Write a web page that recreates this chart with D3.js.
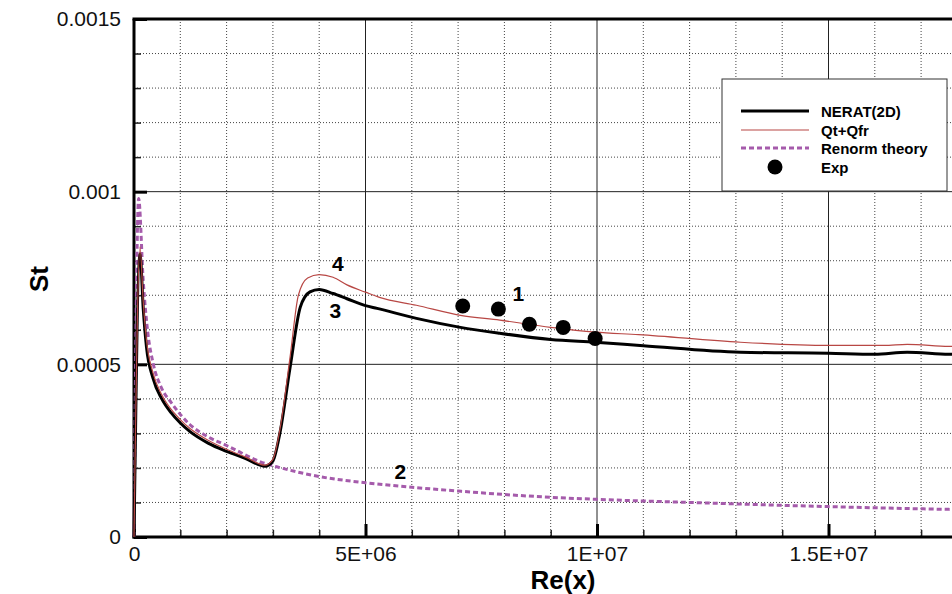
<!DOCTYPE html>
<html><head><meta charset="utf-8">
<script src="https://cdn.jsdelivr.net/npm/d3@7"></script>
<style>
html,body{margin:0;padding:0;background:#fff;}
svg{display:block;font-family:"Liberation Sans",Arial,sans-serif;}
</style></head>
<body>
<svg id="c" width="952" height="594"></svg>
<script>
// ---- data ----
const neratRe = [0, 0.13e6, 0.2e6, 0.27e6, 0.41e6, 0.6e6, 0.8e6, 1.0e6, 1.21e6, 1.6e6, 2.0e6, 2.4e6, 2.83e6, 3.0e6, 3.15e6, 3.37e6, 3.59e6, 3.8e6, 4.0e6, 4.3e6, 4.6e6, 5.0e6, 5.25e6, 6.1e6, 7.05e6, 7.9e6, 9.0e6, 9.96e6, 11.0e6, 13.1e6, 15.0e6, 16.0e6, 16.7e6, 17.6e6, 20e6];
const neratSt = [0, 0.00082, 0.00066, 0.00055, 0.00046, 0.0004, 0.00036, 0.00033, 0.000305, 0.000272, 0.000248, 0.000228, 0.000205, 0.00022, 0.0003, 0.00049, 0.000665, 0.00071, 0.000717, 0.000705, 0.00069, 0.00067, 0.000662, 0.000633, 0.000607, 0.00059, 0.000572, 0.000564, 0.000554, 0.000535, 0.000532, 0.000529, 0.000535, 0.000529, 0.000527];

const qtRe = [0, 0.13e6, 0.2e6, 0.27e6, 0.41e6, 0.6e6, 0.8e6, 1.0e6, 1.21e6, 1.6e6, 2.0e6, 2.4e6, 2.83e6, 3.0e6, 3.15e6, 3.37e6, 3.55e6, 3.75e6, 4.0e6, 4.3e6, 4.6e6, 5.0e6, 5.3e6, 6.1e6, 7.05e6, 7.9e6, 9.0e6, 9.96e6, 10.9e6, 13.1e6, 15.0e6, 16.2e6, 16.7e6, 17.6e6, 20e6];
const qtSt = [0, 0.00084, 0.00068, 0.00057, 0.000475, 0.000412, 0.00037, 0.00034, 0.000314, 0.00028, 0.000254, 0.000232, 0.000208, 0.000225, 0.00031, 0.00052, 0.0007, 0.00075, 0.00076, 0.000752, 0.00073, 0.000709, 0.000694, 0.000671, 0.000642, 0.000628, 0.000607, 0.000593, 0.000586, 0.000564, 0.000555, 0.000555, 0.000558, 0.000552, 0.00055];

const renormRe = [0, 0.1e6, 0.2e6, 0.3e6, 0.41e6, 0.6e6, 0.8e6, 1.21e6, 1.6e6, 2.0e6, 2.83e6, 3.15e6, 4.0e6, 5.0e6, 6.0e6, 7.0e6, 8.0e6, 9.0e6, 10.0e6, 12.0e6, 15.0e6, 17.6e6, 20e6];
const renormSt = [0, 0.00098, 0.00074, 0.00059, 0.000505, 0.00043, 0.00039, 0.000325, 0.00029, 0.000265, 0.000213, 0.000201, 0.000175, 0.000157, 0.000144, 0.000133, 0.000123, 0.000115, 0.000109, 0.0001, 0.000088, 0.00008, 0.000075];

const expRe = [7.1e6, 7.87e6, 8.54e6, 9.27e6, 9.96e6];
const expSt = [0.000669, 0.00066, 0.000616, 0.000607, 0.000575];

const xMajorTicks = [0, 5e6, 1e7, 1.5e7];
const xTickLabels = ["0", "5E+06", "1E+07", "1.5E+07"];
const yMajorTicks = [0, 0.0005, 0.001, 0.0015];
const yTickLabels = ["0", "0.0005", "0.001", "0.0015"];

const legendLabels = ["NERAT(2D)", "Qt+Qfr", "Renorm theory", "Exp"];
const curveLabels = ["1", "2", "3", "4"];
const curveLabelRe = [8.3e6, 5.75e6, 4.35e6, 4.4e6];
const curveLabelSt = [0.000705, 0.00019, 0.000655, 0.000792];

// ---- drawing ----
const svg = d3.select("#c");
const x = d3.scaleLinear().domain([0, 2e7]).range([134, 1060]);
const y = d3.scaleLinear().domain([0, 0.0015]).range([537, 19]);
const L = 134, T = 19, B = 537, R = 952;
const FONT = '"Liberation Sans",Arial,sans-serif';

const minorX = d3.range(1, 20).map(i => i * 1e6).filter(v => v % 5e6 !== 0);
const minorY = d3.range(1, 15).map(i => i * 1e-4).filter(v => yMajorTicks.every(t => Math.abs(t - v) > 1e-9));

const grid = svg.append("g");
grid.selectAll(".gx").data(minorX).join("line")
  .attr("x1", d => x(d)).attr("x2", d => x(d)).attr("y1", T).attr("y2", B)
  .attr("stroke", "#444").attr("stroke-width", 1).attr("stroke-dasharray", "1,2");
grid.selectAll(".gy").data(minorY).join("line")
  .attr("x1", L).attr("x2", R).attr("y1", d => y(d)).attr("y2", d => y(d))
  .attr("stroke", "#444").attr("stroke-width", 1).attr("stroke-dasharray", "1,2");
grid.selectAll(".gX").data(xMajorTicks.slice(1)).join("line")
  .attr("x1", d => x(d)).attr("x2", d => x(d)).attr("y1", T).attr("y2", B)
  .attr("stroke", "#222").attr("stroke-width", 1);
grid.selectAll(".gY").data([0.0005, 0.001]).join("line")
  .attr("x1", L).attr("x2", R).attr("y1", d => y(d)).attr("y2", d => y(d))
  .attr("stroke", "#222").attr("stroke-width", 1);

// minor ticks
const axMinorB = d3.axisBottom(x).tickValues(minorX).tickSize(-7).tickFormat("");
svg.append("g").attr("transform", `translate(0,${B})`).call(axMinorB)
  .call(g => g.select(".domain").remove())
  .call(g => g.selectAll("line").attr("stroke", "#222").attr("stroke-width", 1.5));
const axMinorL = d3.axisLeft(y).tickValues(minorY).tickSize(-7).tickFormat("");
svg.append("g").attr("transform", `translate(${L},0)`).call(axMinorL)
  .call(g => g.select(".domain").remove())
  .call(g => g.selectAll("line").attr("stroke", "#222").attr("stroke-width", 1.5));

// major axes with labels
const axB = d3.axisBottom(x).tickValues(xMajorTicks).tickSize(-13).tickPadding(9)
  .tickFormat((d, i) => xTickLabels[i]);
svg.append("g").attr("transform", `translate(0,${B})`).call(axB)
  .call(g => g.select(".domain").remove())
  .call(g => g.selectAll("line").attr("stroke", "#000").attr("stroke-width", 3))
  .call(g => g.selectAll("text").attr("font-size", 21).attr("fill", "#111").attr("font-family", FONT));
const axL = d3.axisLeft(y).tickValues(yMajorTicks).tickSize(-13).tickPadding(13)
  .tickFormat((d, i) => yTickLabels[i]);
svg.append("g").attr("transform", `translate(${L},0)`).call(axL)
  .call(g => g.select(".domain").remove())
  .call(g => g.selectAll("line").attr("stroke", "#000").attr("stroke-width", 3))
  .call(g => g.selectAll("text").attr("font-size", 21).attr("fill", "#111").attr("font-family", FONT));

// frame
svg.append("line").attr("x1", L - 1.5).attr("x2", R).attr("y1", T).attr("y2", T).attr("stroke", "#000").attr("stroke-width", 3);
svg.append("line").attr("x1", L - 1.5).attr("x2", R).attr("y1", B).attr("y2", B).attr("stroke", "#000").attr("stroke-width", 3);
svg.append("line").attr("x1", L).attr("x2", L).attr("y1", T).attr("y2", B + 1.5).attr("stroke", "#000").attr("stroke-width", 3);

// curves
const line = d3.line().x(d => x(d[0])).y(d => y(d[1])).curve(d3.curveMonotoneX);
const zip = (a, b) => a.map((v, i) => [v, b[i]]);
svg.append("path").datum(zip(renormRe, renormSt)).attr("d", line)
  .attr("fill", "none").attr("stroke", "#a55bab").attr("stroke-width", 3).attr("stroke-dasharray", "5,3");
svg.append("path").datum(zip(neratRe, neratSt)).attr("d", line)
  .attr("fill", "none").attr("stroke", "#000").attr("stroke-width", 3);
svg.append("path").datum(zip(qtRe, qtSt)).attr("d", line)
  .attr("fill", "none").attr("stroke", "#b84744").attr("stroke-width", 1.2);

svg.selectAll(".exp").data(zip(expRe, expSt)).join("circle")
  .attr("cx", d => x(d[0])).attr("cy", d => y(d[1])).attr("r", 7.5).attr("fill", "#000");

// curve labels
svg.selectAll(".cl").data(curveLabels).join("text")
  .attr("x", (d, i) => x(curveLabelRe[i])).attr("y", (d, i) => y(curveLabelSt[i]))
  .attr("text-anchor", "middle").attr("dominant-baseline", "central")
  .attr("font-size", 21).attr("font-weight", "bold").attr("fill", "#000").text(d => d);

// axis titles
svg.append("text").attr("x", 563).attr("y", 589).attr("text-anchor", "middle")
  .attr("font-size", 26).attr("font-weight", "bold").text("Re(x)");
svg.append("text").attr("transform", "translate(48,279) rotate(-90)").attr("text-anchor", "middle")
  .attr("font-size", 26).attr("font-weight", "bold").text("St");

// legend
const lg = svg.append("g");
lg.append("rect").attr("x", 722).attr("y", 79).attr("width", 225).attr("height", 112)
  .attr("fill", "#fff").attr("stroke", "#333").attr("stroke-width", 1);
const lgY = [111, 130, 148, 167];
lg.append("line").attr("x1", 741).attr("x2", 809).attr("y1", lgY[0]).attr("y2", lgY[0]).attr("stroke", "#000").attr("stroke-width", 3);
lg.append("line").attr("x1", 741).attr("x2", 809).attr("y1", lgY[1]).attr("y2", lgY[1]).attr("stroke", "#b84744").attr("stroke-width", 1.2);
lg.append("line").attr("x1", 741).attr("x2", 809).attr("y1", lgY[2]).attr("y2", lgY[2]).attr("stroke", "#a55bab").attr("stroke-width", 3).attr("stroke-dasharray", "5,3");
lg.append("circle").attr("cx", 775).attr("cy", lgY[3]).attr("r", 7.5).attr("fill", "#000");
lg.selectAll(".lt").data(legendLabels).join("text")
  .attr("x", 821).attr("y", (d, i) => lgY[i]).attr("dominant-baseline", "central")
  .attr("font-size", 15).attr("font-weight", "bold").attr("fill", "#000").text(d => d);
</script>
</body></html>
